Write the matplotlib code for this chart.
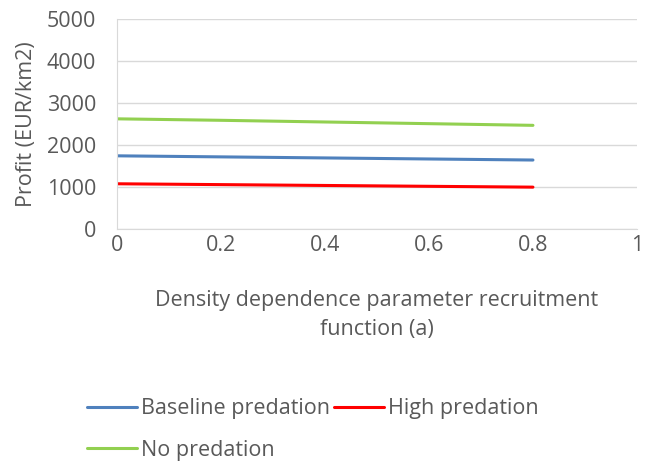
#!/usr/bin/env python3
"""
Beneficio frente al parámetro de denso-dependencia del reclutamiento.
"""

import matplotlib
matplotlib.use("Agg")
import matplotlib.pyplot as plt

# Datos
a_values = [0.0, 0.2, 0.4, 0.6, 0.8]
baseline = [1745, 1720, 1695, 1670, 1645]
high = [1080, 1060, 1040, 1020, 1000]
no_pred = [2625, 2590, 2550, 2510, 2470]

x_ticks = [0, 0.2, 0.4, 0.6, 0.8, 1]
x_tick_labels = ["0", "0.2", "0.4", "0.6", "0.8", "1"]
y_ticks = [0, 1000, 2000, 3000, 4000, 5000]

TEXT = "#595959"
GRID = "#d9d9d9"
FS = 15.5

plt.rcParams["font.family"] = ["Open Sans", "DejaVu Sans"]

fig = plt.figure(figsize=(6.46, 4.63), dpi=100)
ax = fig.add_axes([0.181, 0.505, 0.805, 0.454])

l_base, = ax.plot(a_values, baseline, color="#4f81bd", linewidth=2.2,
                  solid_capstyle="round", label="Baseline predation")
l_high, = ax.plot(a_values, high, color="#ff0000", linewidth=2.2,
                  solid_capstyle="round", label="High predation")
l_no, = ax.plot(a_values, no_pred, color="#92d050", linewidth=2.2,
                solid_capstyle="round", label="No predation")

ax.set_xlim(0, 1)
ax.set_ylim(0, 5000)
ax.set_xticks(x_ticks)
ax.set_xticklabels(x_tick_labels)
ax.set_yticks(y_ticks)

ax.grid(True, axis="y", color=GRID, linewidth=1)
ax.set_axisbelow(True)
for side in ["top", "right"]:
    ax.spines[side].set_visible(False)
ax.spines["left"].set_color(GRID)
ax.spines["bottom"].set_color(GRID)
ax.tick_params(axis="both", length=0, labelsize=FS, colors=TEXT)
ax.tick_params(axis="y", pad=15)
ax.tick_params(axis="x", pad=4)

ax.set_ylabel("Profit (EUR/km2)", fontsize=FS, color=TEXT, labelpad=7)
ax.set_xlabel("Density dependence parameter recruitment\nfunction (a)",
              fontsize=FS, color=TEXT, labelpad=25, linespacing=1.45)

# Leyenda: fila 1 Baseline + High, fila 2 No predation
leg = fig.legend([l_base, l_no, l_high],
                 ["Baseline predation", "No predation", "High predation"],
                 ncol=2, loc="upper left", bbox_to_anchor=(0.105, 0.182),
                 frameon=False, fontsize=FS, handlelength=2.3,
                 handletextpad=0.2, columnspacing=0.2, labelspacing=0.95)
for t in leg.get_texts():
    t.set_color(TEXT)

fig.savefig("out.png", dpi=100)
